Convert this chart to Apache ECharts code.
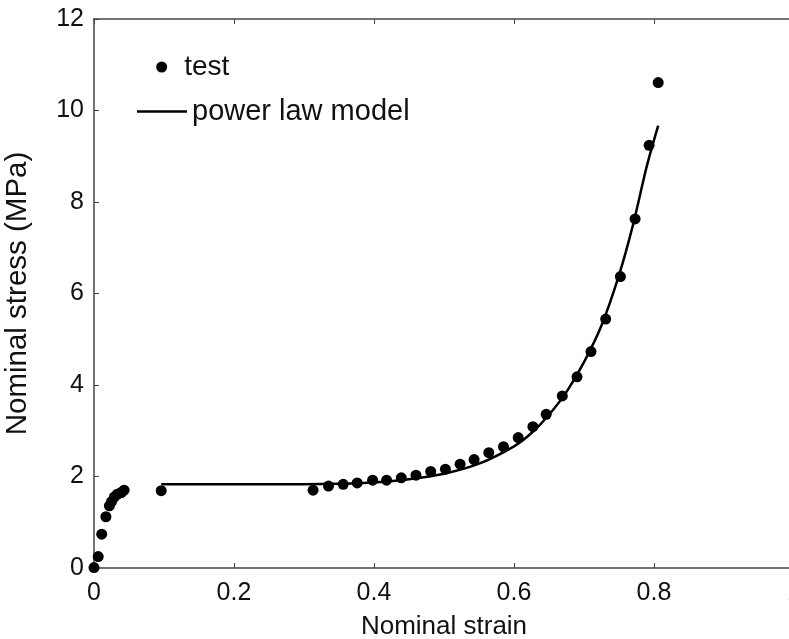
<!DOCTYPE html>
<html>
<head>
<meta charset="utf-8">
<script src="https://cdn.jsdelivr.net/npm/echarts@6/dist/echarts.min.js"></script>
<style>html,body{margin:0;padding:0;background:#fff}#c{width:789px;height:639px}</style>
</head>
<body>
<div id="c"></div>
<script>
// test data: nominal strain / nominal stress (MPa)
var testStrain = [0, 0.006, 0.011, 0.017, 0.022, 0.025, 0.029, 0.033, 0.039, 0.043, 0.096,
  0.313, 0.335, 0.356, 0.376, 0.398, 0.418, 0.439, 0.460, 0.481, 0.502, 0.523, 0.543, 0.564,
  0.585, 0.606, 0.627, 0.646, 0.669, 0.690, 0.710, 0.731, 0.752, 0.773, 0.793, 0.806];
var testStress = [0.01, 0.25, 0.74, 1.12, 1.36, 1.45, 1.55, 1.61, 1.65, 1.70, 1.69,
  1.70, 1.79, 1.83, 1.86, 1.92, 1.92, 1.97, 2.03, 2.11, 2.16, 2.27, 2.37, 2.52,
  2.65, 2.85, 3.09, 3.36, 3.76, 4.18, 4.73, 5.44, 6.37, 7.63, 9.24, 10.61];
// power law model curve
var modelStrain = [0.096, 0.2, 0.3, 0.35, 0.4, 0.45, 0.5, 0.55, 0.6, 0.625, 0.65, 0.675, 0.7, 0.725, 0.75, 0.77, 0.79, 0.806];
var modelStress = [1.83, 1.83, 1.83, 1.84, 1.87, 1.94, 2.06, 2.28, 2.66, 2.95, 3.35, 3.85, 4.5, 5.3, 6.4, 7.5, 8.8, 9.67];
var xTicks = [0, 0.2, 0.4, 0.6, 0.8, 1];
var yTicks = [0, 2, 4, 6, 8, 10, 12];
var seriesNames = ['test', 'power law model'];

function pairs(a, b) { return a.map(function (v, i) { return [v, b[i]]; }); }

var FONT = 'Liberation Sans';
var axisColor = '#444';
var chart = echarts.init(document.getElementById('c'), null, {renderer: 'canvas'});
var baseX = {
  type: 'value', min: xTicks[0], max: xTicks[xTicks.length - 1], interval: 0.2,
  axisLine: {show: true, onZero: false, lineStyle: {color: axisColor, width: 1.5}},
  axisTick: {show: true, inside: true, length: 5, lineStyle: {color: axisColor, width: 1}},
  splitLine: {show: false}
};
var baseY = {
  type: 'value', min: yTicks[0], max: yTicks[yTicks.length - 1], interval: 2,
  axisLine: {show: true, onZero: false, lineStyle: {color: axisColor, width: 1.5}},
  axisTick: {show: true, inside: true, length: 5, lineStyle: {color: axisColor, width: 1}},
  splitLine: {show: false}
};
chart.setOption({
  animation: false,
  backgroundColor: '#fff',
  grid: {left: 94, right: -5, top: 19, bottom: 71, containLabel: false, outerBoundsMode: 'none'},
  xAxis: [
    Object.assign({}, baseX, {
      position: 'bottom', name: 'Nominal strain', nameLocation: 'middle', nameGap: 46,
      nameTextStyle: {fontFamily: FONT, fontSize: 26, color: '#111'},
      axisLabel: {fontFamily: FONT, fontSize: 25, color: '#111', margin: 13, hideOverlap: false}
    }),
    Object.assign({}, baseX, {position: 'top', axisLabel: {show: false}})
  ],
  yAxis: [
    Object.assign({}, baseY, {
      position: 'left', name: 'Nominal stress (MPa)', nameLocation: 'middle', nameGap: 61,
      nameTextStyle: {fontFamily: FONT, fontSize: 29.5, color: '#111'},
      axisLabel: {fontFamily: FONT, fontSize: 25, color: '#111', margin: 10}
    }),
    Object.assign({}, baseY, {position: 'right', axisLabel: {show: false}})
  ],
  legend: [
    {data: [{name: seriesNames[0], icon: 'circle'}], left: 151.2, top: 48, itemWidth: 11, itemHeight: 11,
     textStyle: {fontFamily: FONT, fontSize: 28, color: '#111', padding: [0, 0, 0, 12]}},
    {data: [{name: seriesNames[1], icon: 'rect'}], left: 132, top: 92, itemWidth: 50, itemHeight: 2.5,
     textStyle: {fontFamily: FONT, fontSize: 29, color: '#111'}}
  ],
  series: [
    {name: seriesNames[0], type: 'scatter', data: pairs(testStrain, testStress),
     symbol: 'circle', symbolSize: 11, itemStyle: {color: '#000', opacity: 1}, z: 3},
    {name: seriesNames[1], type: 'line', data: pairs(modelStrain, modelStress),
     smooth: 0.3, symbol: 'none', showSymbol: false,
     lineStyle: {color: '#000', width: 2.5}, itemStyle: {color: '#000'}, z: 2}
  ]
});
</script>
</body>
</html>
